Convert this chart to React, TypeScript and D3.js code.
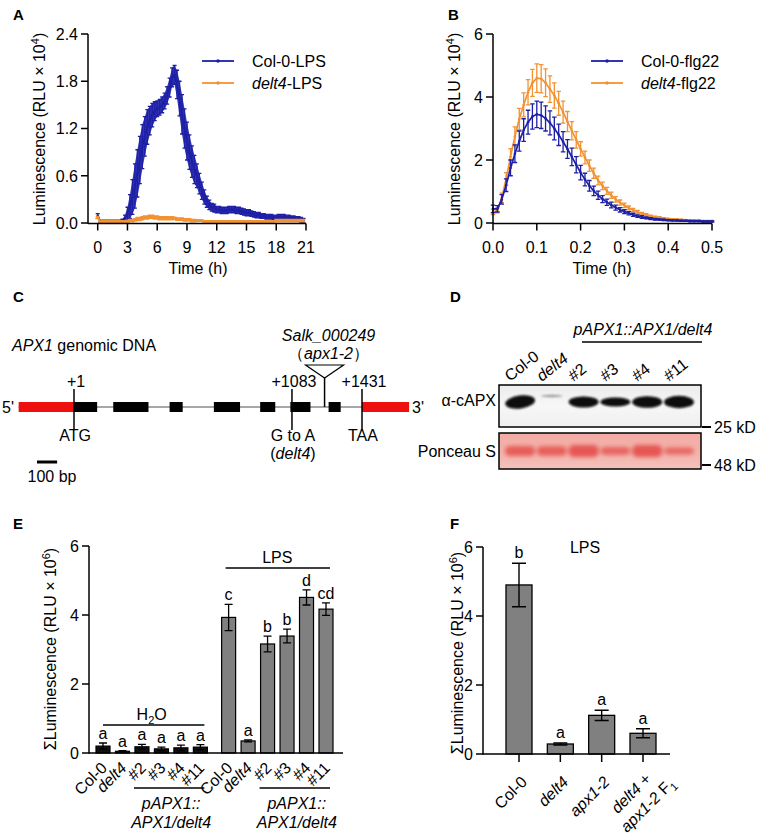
import React from 'react';
import * as d3 from 'd3';

const FONT = '"Liberation Sans", Arial, Helvetica, sans-serif';
const BLUE = '#1d1fa6';
const ORANGE = '#f29232';
const BAR_GRAY = '#808080';

// ---------- Panel A: LPS time course (RLU x 10^4), one reading every 0.25 h ----------
const lpsStepH = 0.25;
const colLpsMean = [
  0.09, 0.02, 0.02, 0.02, 0.02, 0.02, 0.02, 0.02, 0.02, 0.02, 0.03, 0.06,
  0.12, 0.21, 0.33, 0.47, 0.63, 0.80, 0.97, 1.10, 1.22, 1.30, 1.37, 1.42,
  1.45, 1.47, 1.50, 1.55, 1.62, 1.72, 1.85, 1.88, 1.76, 1.58, 1.38, 1.20,
  1.04, 0.90, 0.78, 0.68, 0.60, 0.50, 0.41, 0.33, 0.27, 0.23, 0.20, 0.19,
  0.17, 0.17, 0.16, 0.16, 0.16, 0.17, 0.17, 0.17, 0.16, 0.16, 0.15, 0.14,
  0.13, 0.13, 0.12, 0.11, 0.10, 0.10, 0.09, 0.09, 0.08, 0.08, 0.08, 0.07,
  0.07, 0.08, 0.08, 0.08, 0.07, 0.07, 0.06, 0.06, 0.05, 0.05, 0.04, 0.03,
];
const colLpsSem = [
  0.03, 0.015, 0.015, 0.015, 0.015, 0.015, 0.015, 0.015, 0.015, 0.015, 0.02, 0.04,
  0.08, 0.15, 0.22, 0.28, 0.30, 0.30, 0.28, 0.25, 0.22, 0.18, 0.15, 0.12,
  0.10, 0.10, 0.10, 0.10, 0.11, 0.12, 0.12, 0.12, 0.18, 0.22, 0.25, 0.25,
  0.24, 0.22, 0.20, 0.18, 0.15, 0.13, 0.11, 0.09, 0.07, 0.06, 0.05, 0.05,
  0.04, 0.04, 0.04, 0.04, 0.04, 0.04, 0.04, 0.04, 0.04, 0.04, 0.04, 0.04,
  0.04, 0.04, 0.035, 0.035, 0.035, 0.035, 0.03, 0.03, 0.03, 0.03, 0.03, 0.03,
  0.03, 0.03, 0.03, 0.03, 0.03, 0.03, 0.03, 0.03, 0.03, 0.03, 0.03, 0.03,
];
const delt4LpsMean = [
  0.07, 0.02, 0.02, 0.02, 0.02, 0.02, 0.02, 0.02, 0.02, 0.02, 0.02, 0.02,
  0.02, 0.03, 0.03, 0.04, 0.05, 0.05, 0.06, 0.07, 0.07, 0.08, 0.08, 0.07,
  0.07, 0.06, 0.06, 0.06, 0.06, 0.06, 0.06, 0.06, 0.05, 0.05, 0.05, 0.04,
  0.04, 0.04, 0.03, 0.03, 0.03, 0.03, 0.03, 0.02, 0.02, 0.02, 0.02, 0.02,
  0.02, 0.02, 0.02, 0.02, 0.02, 0.02, 0.02, 0.02, 0.02, 0.02, 0.02, 0.02,
  0.02, 0.02, 0.02, 0.02, 0.02, 0.02, 0.02, 0.02, 0.02, 0.02, 0.02, 0.02,
  0.03, 0.03, 0.03, 0.03, 0.03, 0.03, 0.03, 0.03, 0.03, 0.03, 0.03, 0.03,
];
const delt4LpsSem = [
  0.015, 0.01, 0.01, 0.01, 0.01, 0.01, 0.01, 0.01, 0.01, 0.01, 0.01, 0.01,
  0.015, 0.015, 0.015, 0.015, 0.02, 0.02, 0.02, 0.02, 0.02, 0.02, 0.02, 0.02,
  0.02, 0.02, 0.02, 0.02, 0.02, 0.02, 0.02, 0.015, 0.015, 0.015, 0.015, 0.015,
  0.015, 0.015, 0.015, 0.015, 0.01, 0.01, 0.01, 0.01, 0.01, 0.01, 0.01, 0.01,
  0.01, 0.01, 0.01, 0.01, 0.01, 0.01, 0.01, 0.01, 0.01, 0.01, 0.01, 0.01,
  0.01, 0.01, 0.01, 0.01, 0.01, 0.01, 0.01, 0.01, 0.01, 0.01, 0.01, 0.01,
  0.015, 0.015, 0.015, 0.015, 0.015, 0.015, 0.015, 0.015, 0.015, 0.015, 0.015, 0.015,
];
const aTicksX = [0, 3, 6, 9, 12, 15, 18, 21];
const aTicksY = [0, 0.6, 1.2, 1.8, 2.4];

// ---------- Panel B: flg22 time course (RLU x 10^4), one reading every 0.01 h ----------
const flgStepH = 0.01;
const colFlgMean = [
  0.45, 0.45, 0.75, 1.20, 1.75, 2.20, 2.60, 2.95, 3.20, 3.38,
  3.45, 3.42, 3.32, 3.18, 3.00, 2.80, 2.58, 2.35, 2.10, 1.85,
  1.60, 1.38, 1.18, 1.02, 0.88, 0.76, 0.66, 0.57, 0.49, 0.42,
  0.36, 0.31, 0.26, 0.22, 0.19, 0.16, 0.14, 0.12, 0.11, 0.10,
  0.09, 0.08, 0.08, 0.07, 0.07, 0.06, 0.06, 0.06, 0.05, 0.05, 0.05,
];
const colFlgSem = [
  0.12, 0.10, 0.15, 0.20, 0.25, 0.28, 0.32, 0.36, 0.38, 0.40,
  0.42, 0.42, 0.40, 0.38, 0.36, 0.34, 0.32, 0.30, 0.28, 0.26,
  0.23, 0.20, 0.17, 0.15, 0.13, 0.11, 0.10, 0.09, 0.08, 0.07,
  0.06, 0.05, 0.05, 0.04, 0.04, 0.03, 0.03, 0.03, 0.02, 0.02,
  0.02, 0.02, 0.02, 0.02, 0.02, 0.02, 0.02, 0.02, 0.02, 0.02, 0.02,
];
const delt4FlgMean = [
  0.35, 0.40, 0.80, 1.40, 2.10, 2.75, 3.30, 3.75, 4.15, 4.45,
  4.60, 4.58, 4.45, 4.25, 4.05, 3.80, 3.52, 3.22, 2.93, 2.64,
  2.35, 2.08, 1.82, 1.58, 1.35, 1.18, 1.02, 0.88, 0.75, 0.65,
  0.56, 0.48, 0.41, 0.35, 0.30, 0.26, 0.22, 0.19, 0.17, 0.15,
  0.13, 0.12, 0.11, 0.10, 0.09, 0.08, 0.07, 0.07, 0.06, 0.06, 0.06,
];
const delt4FlgSem = [
  0.08, 0.08, 0.15, 0.20, 0.26, 0.30, 0.34, 0.38, 0.40, 0.43,
  0.45, 0.45, 0.44, 0.42, 0.40, 0.38, 0.35, 0.32, 0.29, 0.26,
  0.23, 0.20, 0.18, 0.16, 0.14, 0.12, 0.11, 0.10, 0.09, 0.08,
  0.07, 0.06, 0.05, 0.05, 0.04, 0.04, 0.03, 0.03, 0.03, 0.02,
  0.02, 0.02, 0.02, 0.02, 0.02, 0.02, 0.02, 0.02, 0.02, 0.02, 0.02,
];
const bTicksX = [0, 0.1, 0.2, 0.3, 0.4, 0.5];
const bTicksY = [0, 2, 4, 6];

// ---------- Panel C: APX1 gene model (bp relative to ATG) ----------
const utr5Bp: [number, number] = [-275, 0];
const utr3Bp: [number, number] = [1431, 1665];
const exonsBp: [number, number][] = [
  [0, 115], [195, 370], [475, 540], [695, 825], [925, 1000], [1075, 1175], [1265, 1325],
];
const geneMarkers = [
  { bp: 0, top: '+1', bottom: 'ATG' },
  { bp: 1083, top: '+1083', bottom: 'G to A' },
  { bp: 1431, top: '+1431', bottom: 'TAA' },
];
const insertionBp = 1245;
const scaleBarBp = 100;

// ---------- Panel D: western blot ----------
const blotLanes = ['Col-0', 'delt4', '#2', '#3', '#4', '#11'];
const apxSignal = [1.0, 0.12, 0.85, 0.7, 0.9, 0.95];
const ponceauSignal = [0.85, 0.8, 1.0, 0.65, 1.0, 0.6];

// ---------- Panel E ----------
const eLines = ['Col-0', 'delt4', '#2', '#3', '#4', '#11'];
const eH2O = [0.20, 0.05, 0.18, 0.12, 0.15, 0.17];
const eH2OErr = [0.09, 0.02, 0.07, 0.05, 0.08, 0.07];
const eH2OLetters = ['a', 'a', 'a', 'a', 'a', 'a'];
const eLps = [3.93, 0.35, 3.16, 3.39, 4.51, 4.17];
const eLpsErr = [0.38, 0.03, 0.23, 0.20, 0.22, 0.18];
const eLpsLetters = ['c', 'a', 'b', 'b', 'd', 'cd'];
const eTicksY = [0, 2, 4, 6];

// ---------- Panel F ----------
const fCats = ['Col-0', 'delt4', 'apx1-2', 'delt4 + apx1-2 F1'];
const fValues = [4.90, 0.29, 1.12, 0.60];
const fErr = [0.63, 0.03, 0.15, 0.13];
const fLetters = ['b', 'a', 'a', 'a'];
const fTicksY = [0, 2, 4, 6];

// ---------- helpers ----------
type Lin = d3.ScaleLinear<number, number>;

function YAxis({ scale, ticks, x, fmt }: { scale: Lin; ticks: number[]; x: number; fmt: (v: number) => string }) {
  const [r0, r1] = scale.range();
  return (
    <g>
      <line x1={x} x2={x} y1={r0 + 0.75} y2={r1} stroke="#000" strokeWidth={1.5} />
      {ticks.map((t) => (
        <g key={t}>
          <line x1={x - 7} x2={x} y1={scale(t)} y2={scale(t)} stroke="#000" strokeWidth={1.5} />
          <text x={x - 10} y={scale(t)} dy="0.36em" textAnchor="end">{fmt(t)}</text>
        </g>
      ))}
    </g>
  );
}

function XAxisTicks({ scale, ticks, y, x0, x1, fmt }: { scale: Lin; ticks: number[]; y: number; x0: number; x1: number; fmt: (v: number) => string }) {
  return (
    <g>
      <line x1={x0} x2={x1} y1={y} y2={y} stroke="#000" strokeWidth={1.5} />
      {ticks.map((t) => (
        <g key={t}>
          <line x1={scale(t)} x2={scale(t)} y1={y} y2={y + 7} stroke="#000" strokeWidth={1.5} />
          <text x={scale(t)} y={y + 29} textAnchor="middle">{fmt(t)}</text>
        </g>
      ))}
    </g>
  );
}

function errPath(xs: number[], lo: number[], hi: number[], cap: number) {
  let d = '';
  xs.forEach((x, i) => {
    d += `M${x - cap / 2},${hi[i]}H${x + cap / 2}M${x},${hi[i]}V${lo[i]}M${x - cap / 2},${lo[i]}H${x + cap / 2}`;
  });
  return d;
}

function Series({ mean, sem, step, sx, sy, color, cap, band }: { mean: number[]; sem: number[]; step: number; sx: Lin; sy: Lin; color: string; cap: number; band: boolean }) {
  const pts = mean.map((m, i) => ({ t: i * step, m, s: sem[i] }));
  const xs = pts.map((p) => sx(p.t));
  const lo = pts.map((p) => sy(Math.max(0, p.m - p.s)));
  const hi = pts.map((p) => sy(p.m + p.s));
  const line = d3.line<typeof pts[0]>().x((p) => sx(p.t)).y((p) => sy(p.m));
  const area = d3.area<typeof pts[0]>().x((p) => sx(p.t)).y0((p) => sy(Math.max(0, p.m - p.s))).y1((p) => sy(p.m + p.s));
  return (
    <g>
      {band && <path d={area(pts) || ''} fill={color} opacity={0.9} />}
      <path d={errPath(xs, lo, hi, cap)} stroke={color} strokeWidth={1.3} fill="none" />
      <path d={line(pts) || ''} stroke={color} strokeWidth={1.7} fill="none" />
      {pts.map((p, i) => (
        <circle key={i} cx={sx(p.t)} cy={sy(p.m)} r={1.3} fill={color} />
      ))}
    </g>
  );
}

function LegendRow({ x, y, color, children }: { x: number; y: number; color: string; children: React.ReactNode }) {
  return (
    <g>
      <line x1={x} x2={x + 32} y1={y} y2={y} stroke={color} strokeWidth={1.8} />
      <circle cx={x + 16} cy={y} r={1.8} fill={color} />
      <text x={x + 50} y={y} dy="0.36em">{children}</text>
    </g>
  );
}

function YLabel({ x, y, exp }: { x: number; y: number; exp: string }) {
  return (
    <text transform={`translate(${x},${y}) rotate(-90)`} textAnchor="middle">
      Luminescence (RLU × 10<tspan dy={-6} fontSize={11}>{exp}</tspan><tspan dy={6}>)</tspan>
    </text>
  );
}

function SigmaYLabel({ x, y }: { x: number; y: number }) {
  return (
    <text transform={`translate(${x},${y}) rotate(-90)`} textAnchor="middle">
      ΣLuminescence (RLU × 10<tspan dy={-6} fontSize={11}>6</tspan><tspan dy={6}>)</tspan>
    </text>
  );
}

function LaneLabel({ name }: { name: string }) {
  if (name === 'delt4') return <tspan fontStyle="italic">delt4</tspan>;
  return <>{name}</>;
}

export default function App() {
  // ---- scales
  const axA = d3.scaleLinear().domain([0, 21]).range([97.7, 306]);
  const ayA = d3.scaleLinear().domain([0, 2.4]).range([223, 34]);
  const bxB = d3.scaleLinear().domain([0, 0.5]).range([493, 712]);
  const byB = d3.scaleLinear().domain([0, 6]).range([223, 34]);
  const gX = d3.scaleLinear().domain([0, 1431]).range([74, 362]);
  const laneX = d3.scaleLinear().domain([0, blotLanes.length - 1]).range([520, 679]);
  const eY = d3.scaleLinear().domain([0, 6]).range([753, 546]);
  const eSlot = d3.scaleLinear().domain([0, 11.45]).range([103, 326]);
  const fY = d3.scaleLinear().domain([0, 6]).range([754, 547]);
  const fX = d3.scalePoint<string>().domain(fCats).range([519, 643]);

  const geneY = 407;
  const eBarW = 14;
  const fBarW = 26;

  const eGroups = [
    { vals: eH2O, errs: eH2OErr, letters: eH2OLetters, offset: 0, fill: '#111' },
    { vals: eLps, errs: eLpsErr, letters: eLpsLetters, offset: 6.45, fill: BAR_GRAY },
  ];

  return (
    <svg
      width={760}
      height={836}
      style={{ position: 'absolute', left: 0, top: 0, background: '#fff' }}
      fontFamily={FONT}
      fontSize={16}
    >
      <defs>
        <filter id="blur1" x="-30%" y="-60%" width="160%" height="220%">
          <feGaussianBlur stdDeviation="1.3" />
        </filter>
        <filter id="blur2" x="-30%" y="-80%" width="160%" height="260%">
          <feGaussianBlur stdDeviation="2.2" />
        </filter>
        <linearGradient id="blotBg" x1="0" y1="0" x2="0" y2="1">
          <stop offset="0" stopColor="#ececec" />
          <stop offset="0.5" stopColor="#f7f7f7" />
          <stop offset="1" stopColor="#efefef" />
        </linearGradient>
        <linearGradient id="ponBg" x1="0" y1="0" x2="0" y2="1">
          <stop offset="0" stopColor="#f3aca4" />
          <stop offset="0.6" stopColor="#f2b4ad" />
          <stop offset="1" stopColor="#f4c2bc" />
        </linearGradient>
      </defs>

      {/* ===== Panel labels ===== */}
      <g fontWeight="bold" fontSize={15}>
        <text x={13} y={20}>A</text>
        <text x={448} y={20}>B</text>
        <text x={13} y={302}>C</text>
        <text x={450} y={302}>D</text>
        <text x={13} y={529}>E</text>
        <text x={450} y={529}>F</text>
      </g>

      {/* ===== Panel A ===== */}
      <g>
        <Series mean={colLpsMean} sem={colLpsSem} step={lpsStepH} sx={axA} sy={ayA} color={BLUE} cap={4} band />
        <Series mean={delt4LpsMean} sem={delt4LpsSem} step={lpsStepH} sx={axA} sy={ayA} color={ORANGE} cap={4} band />
        <YAxis scale={ayA} ticks={aTicksY} x={88} fmt={(v) => v.toFixed(1)} />
        <XAxisTicks scale={axA} ticks={aTicksX} y={223.5} x0={88} x1={306} fmt={(v) => String(v)} />
        <text x={198} y={274} textAnchor="middle">Time (h)</text>
        <YLabel x={45} y={129} exp="4" />
        <LegendRow x={202} y={61} color={BLUE}>Col-0-LPS</LegendRow>
        <LegendRow x={202} y={83} color={ORANGE}>
          <tspan fontStyle="italic">delt4</tspan>-LPS
        </LegendRow>
      </g>

      {/* ===== Panel B ===== */}
      <g>
        <Series mean={delt4FlgMean} sem={delt4FlgSem} step={flgStepH} sx={bxB} sy={byB} color={ORANGE} cap={4.5} band={false} />
        <Series mean={colFlgMean} sem={colFlgSem} step={flgStepH} sx={bxB} sy={byB} color={BLUE} cap={4.5} band={false} />
        <YAxis scale={byB} ticks={bTicksY} x={493} fmt={(v) => String(v)} />
        <XAxisTicks scale={bxB} ticks={bTicksX} y={223.5} x0={493} x1={712} fmt={(v) => v.toFixed(1)} />
        <text x={602} y={274} textAnchor="middle">Time (h)</text>
        <YLabel x={460} y={129} exp="4" />
        <LegendRow x={591} y={61} color={BLUE}>Col-0-flg22</LegendRow>
        <LegendRow x={591} y={83} color={ORANGE}>
          <tspan fontStyle="italic">delt4</tspan>-flg22
        </LegendRow>
      </g>

      {/* ===== Panel C ===== */}
      <g>
        <text x={12} y={351}>
          <tspan fontStyle="italic">APX1</tspan> genomic DNA
        </text>
        <line x1={gX(utr5Bp[0])} x2={gX(utr3Bp[1])} y1={geneY} y2={geneY} stroke="#8a8a8a" strokeWidth={1.5} />
        <rect x={gX(utr5Bp[0])} y={geneY - 5} width={gX(utr5Bp[1]) - gX(utr5Bp[0])} height={10} fill="#ee0f0f" />
        <rect x={gX(utr3Bp[0])} y={geneY - 5} width={gX(utr3Bp[1]) - gX(utr3Bp[0])} height={10} fill="#ee0f0f" />
        {exonsBp.map(([s, e], i) => (
          <rect key={i} x={gX(s)} y={geneY - 5} width={gX(e) - gX(s)} height={10} fill="#000" />
        ))}
        {geneMarkers.map((m) => (
          <g key={m.bp}>
            <line x1={gX(m.bp)} x2={gX(m.bp)} y1={389} y2={430} stroke="#000" strokeWidth={1.5} />
            <text x={gX(m.bp) + 2} y={387} textAnchor="middle">{m.top}</text>
            <text x={gX(m.bp) + 1} y={441} textAnchor="middle">{m.bottom}</text>
          </g>
        ))}
        <text x={gX(1083) + 1} y={459} textAnchor="middle">
          (<tspan fontStyle="italic">delt4</tspan>)
        </text>
        <text x={2} y={geneY} dy="0.36em">5'</text>
        <text x={gX(utr3Bp[1]) + 3} y={geneY} dy="0.36em">3'</text>
        {/* T-DNA insertion */}
        <line x1={gX(insertionBp)} x2={gX(insertionBp)} y1={378} y2={geneY} stroke="#000" strokeWidth={1.5} />
        <path
          d={`M${gX(insertionBp) - 19},365H${gX(insertionBp) + 19}L${gX(insertionBp)},378Z`}
          fill="#fff"
          stroke="#000"
          strokeWidth={1.2}
        />
        <text x={gX(insertionBp) + 4} y={341} textAnchor="middle" fontStyle="italic">Salk_000249</text>
        <text x={gX(insertionBp) + 4} y={359} textAnchor="middle">
          （<tspan fontStyle="italic">apx1-2</tspan>）
        </text>
        {/* scale bar */}
        <line x1={37} x2={37 + (gX(scaleBarBp) - gX(0))} y1={462} y2={462} stroke="#000" strokeWidth={3} />
        <text x={52} y={482} textAnchor="middle">100 bp</text>
      </g>

      {/* ===== Panel D ===== */}
      <g>
        <text x={643} y={335} textAnchor="middle" fontStyle="italic">pAPX1::APX1/delt4</text>
        <line x1={582} x2={702} y1={342} y2={342} stroke="#000" strokeWidth={1.5} />
        {blotLanes.map((l, i) => (
          <text key={l} transform={`translate(${laneX(i) - 10},${382}) rotate(-38)`}>
            <LaneLabel name={l} />
          </text>
        ))}
        {/* anti-cAPX blot */}
        <rect x={499} y={385} width={202} height={42} fill="url(#blotBg)" />
        <g filter="url(#blur1)">
          {apxSignal.map((s, i) => (
            <ellipse
              key={i}
              cx={laneX(i)}
              cy={i === 1 ? 396 : 402}
              rx={i === 1 ? 11 : 15}
              ry={Math.max(1.2, 6.5 * s)}
              fill={s < 0.3 ? '#9a9a9a' : '#080808'}
              transform={i === 0 ? `rotate(-8 ${laneX(i)} 401)` : undefined}
            />
          ))}
        </g>
        <rect x={499} y={385} width={202} height={42} fill="none" stroke="#000" strokeWidth={1.5} />
        <text x={496} y={400} dy="0.36em" textAnchor="end">α-cAPX</text>
        <line x1={702} x2={711} y1={427} y2={427} stroke="#000" strokeWidth={2} />
        <text x={714} y={427} dy="0.36em">25 kD</text>
        {/* Ponceau */}
        <rect x={499} y={433} width={202} height={36} fill="url(#ponBg)" />
        <g filter="url(#blur2)">
          {ponceauSignal.map((s, i) => (
            <rect
              key={i}
              x={laneX(i) - 15}
              y={451 - 6 * s}
              width={30}
              height={12 * s}
              rx={5}
              fill="#e5514d"
              opacity={0.55 + 0.4 * s}
            />
          ))}
        </g>
        <rect x={499} y={433} width={202} height={36} fill="none" stroke="#000" strokeWidth={1.5} />
        <text x={496} y={451} dy="0.36em" textAnchor="end">Ponceau S</text>
        <line x1={702} x2={711} y1={465} y2={465} stroke="#000" strokeWidth={2} />
        <text x={714} y={465} dy="0.36em">48 kD</text>
      </g>

      {/* ===== Panel E ===== */}
      <g>
        {eGroups.map((g, gi) =>
          g.vals.map((v, i) => {
            const cx = eSlot(i + g.offset);
            const top = eY(v);
            const eh = eY(v + g.errs[i]);
            const el = eY(Math.max(0, v - g.errs[i]));
            return (
              <g key={`${gi}-${i}`}>
                <rect x={cx - eBarW / 2} y={top} width={eBarW} height={eY(0) - top} fill={g.fill} stroke="#000" strokeWidth={1.2} />
                <path d={`M${cx - 4},${eh}H${cx + 4}M${cx},${eh}V${el}M${cx - 4},${el}H${cx + 4}`} stroke="#000" strokeWidth={1.3} fill="none" />
                <text x={cx} y={eh - 4} textAnchor="middle">{g.letters[i]}</text>
                <text transform={`translate(${cx + 5},${769}) rotate(-45)`} textAnchor="end">
                  <LaneLabel name={eLines[i]} />
                </text>
              </g>
            );
          })
        )}
        <YAxis scale={eY} ticks={eTicksY} x={89} fmt={(v) => String(v)} />
        <line x1={89} x2={343} y1={753} y2={753} stroke="#000" strokeWidth={1.5} />
        <SigmaYLabel x={56} y={649} />
        {/* group labels */}
        <line x1={eSlot(0)} x2={eSlot(5) + 4} y1={725} y2={725} stroke="#000" strokeWidth={1.3} />
        <text x={(eSlot(0) + eSlot(5)) / 2} y={720} textAnchor="middle">
          H<tspan dy={4} fontSize={11}>2</tspan><tspan dy={-4}>O</tspan>
        </text>
        <line x1={eSlot(6.45) - 3} x2={eSlot(11.45) + 4} y1={568} y2={568} stroke="#000" strokeWidth={1.3} />
        <text x={(eSlot(6.45) + eSlot(11.45)) / 2} y={563} textAnchor="middle">LPS</text>
        {[0, 6.45].map((off) => {
          const c = (eSlot(off + 2) + eSlot(off + 5)) / 2;
          return (
            <g key={off}>
              <line x1={eSlot(off + 2) - 8} x2={eSlot(off + 5) + 4} y1={788} y2={788} stroke="#000" strokeWidth={1.3} />
              <text x={c} y={809} textAnchor="middle" fontStyle="italic">pAPX1::</text>
              <text x={c} y={828} textAnchor="middle" fontStyle="italic">APX1/delt4</text>
            </g>
          );
        })}
      </g>

      {/* ===== Panel F ===== */}
      <g>
        {fCats.map((c, i) => {
          const cx = fX(c)!;
          const top = fY(fValues[i]);
          const eh = fY(fValues[i] + fErr[i]);
          const el = fY(fValues[i] - fErr[i]);
          return (
            <g key={c}>
              <rect x={cx - fBarW / 2} y={top} width={fBarW} height={fY(0) - top} fill={BAR_GRAY} stroke="#000" strokeWidth={1.3} />
              <path d={`M${cx - 7},${eh}H${cx + 7}M${cx},${eh}V${el}M${cx - 7},${el}H${cx + 7}`} stroke="#000" strokeWidth={1.4} fill="none" />
              <text x={cx} y={eh - 5} textAnchor="middle">{fLetters[i]}</text>
              <line x1={cx} x2={cx} y1={754} y2={762} stroke="#000" strokeWidth={1.5} />
            </g>
          );
        })}
        <YAxis scale={fY} ticks={fTicksY} x={483} fmt={(v) => String(v)} />
        <line x1={483} x2={670} y1={754} y2={754} stroke="#000" strokeWidth={1.5} />
        <SigmaYLabel x={463} y={653} />
        <text x={585} y={553} textAnchor="middle">LPS</text>
        {/* rotated category labels */}
        <text transform={`translate(${fX(fCats[0])! + 9},${783}) rotate(-45)`} textAnchor="end">Col-0</text>
        <text transform={`translate(${fX(fCats[1])! + 9},${783}) rotate(-45)`} textAnchor="end" fontStyle="italic">delt4</text>
        <text transform={`translate(${fX(fCats[2])! + 9},${783}) rotate(-45)`} textAnchor="end" fontStyle="italic">apx1-2</text>
        <g transform={`translate(${fX(fCats[3])! + 9},${780}) rotate(-45)`}>
          <text x={0} y={0} textAnchor="end">
            <tspan fontStyle="italic">delt4</tspan> +
          </text>
          <text x={14} y={20} textAnchor="end">
            <tspan fontStyle="italic">apx1-2</tspan> F<tspan dy={4} fontSize={11}>1</tspan>
          </text>
        </g>
      </g>
    </svg>
  );
}
